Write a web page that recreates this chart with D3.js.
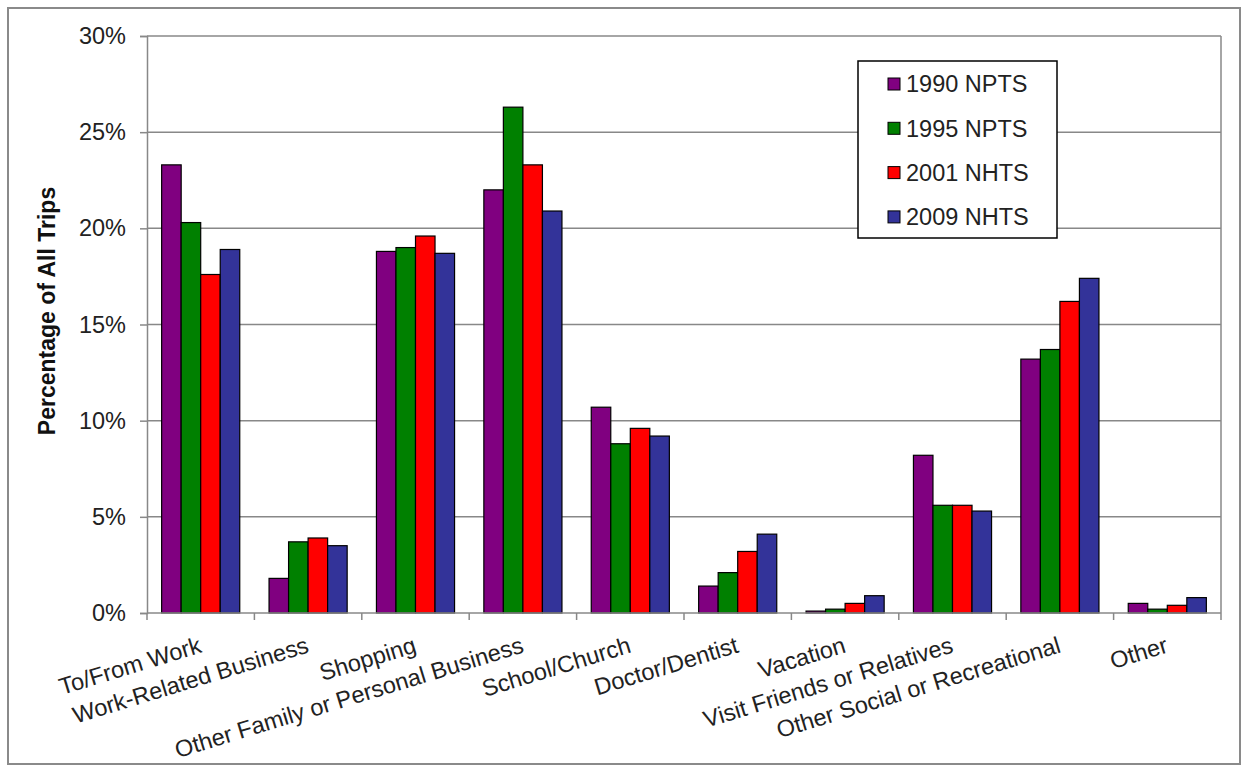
<!DOCTYPE html>
<html>
<head>
<meta charset="utf-8">
<script src="https://cdn.jsdelivr.net/npm/d3@7/dist/d3.min.js"></script>
<style>
  html, body { margin: 0; padding: 0; background: #fff; }
  svg { display: block; font-family: "Liberation Sans", Arial, sans-serif; }
</style>
</head>
<body>
<svg id="chart" width="1247" height="770"></svg>
<script>
const categories = ["To/From Work","Work-Related Business","Shopping","Other Family or Personal Business","School/Church","Doctor/Dentist","Vacation","Visit Friends or Relatives","Other Social or Recreational","Other"];
const seriesNames = ["1990 NPTS","1995 NPTS","2001 NHTS","2009 NHTS"];
const seriesColors = ["#800080","#008000","#FF0000","#333399"];
const values1990 = [23.3, 1.8, 18.8, 22.0, 10.7, 1.4, 0.1, 8.2, 13.2, 0.5];
const values1995 = [20.3, 3.7, 19.0, 26.3, 8.8, 2.1, 0.2, 5.6, 13.7, 0.2];
const values2001 = [17.6, 3.9, 19.6, 23.3, 9.6, 3.2, 0.5, 5.6, 16.2, 0.4];
const values2009 = [18.9, 3.5, 18.7, 20.9, 9.2, 4.1, 0.9, 5.3, 17.4, 0.8];
const yTicks = [0, 5, 10, 15, 20, 25, 30];
const yTitle = "Percentage of All Trips";

const allSeries = [values1990, values1995, values2001, values2009];

const svg = d3.select("#chart");
const L = 147, R = 1221, T = 36, B = 613;

// outer border
svg.append("rect").attr("x", 8).attr("y", 8).attr("width", 1232).attr("height", 756)
  .attr("fill", "#fff").attr("stroke", "#8a8a8a").attr("stroke-width", 2);

const x0 = d3.scaleBand().domain(categories).range([L, R]).padding(0);
const x1 = d3.scaleBand().domain(seriesNames).range([0, x0.bandwidth()]).paddingInner(0).paddingOuter(0.75);
const y = d3.scaleLinear().domain([0, 30]).range([B, T]);

// gridlines
svg.append("g").selectAll("line").data(yTicks.filter(d => d > 0)).join("line")
  .attr("x1", L).attr("x2", R).attr("y1", d => y(d)).attr("y2", d => y(d))
  .attr("stroke", "#888").attr("stroke-width", 1.5);
// right plot border
svg.append("line").attr("x1", R).attr("x2", R).attr("y1", T).attr("y2", B)
  .attr("stroke", "#888").attr("stroke-width", 1.5);

// bars
const groups = svg.append("g").selectAll("g").data(categories).join("g")
  .attr("transform", d => `translate(${x0(d)},0)`);
groups.selectAll("rect").data((c, i) => seriesNames.map((s, j) => ({s, j, v: allSeries[j][i]})))
  .join("rect")
  .attr("x", d => x1(d.s))
  .attr("width", x1.bandwidth())
  .attr("y", d => y(d.v))
  .attr("height", d => B - y(d.v))
  .attr("fill", d => seriesColors[d.j])
  .attr("stroke", "#000").attr("stroke-width", 1.2);

// y axis
const yAxis = d3.axisLeft(y).tickValues(yTicks).tickFormat(d => d + "%").tickSize(7).tickPadding(14);
const gy = svg.append("g").attr("transform", `translate(${L},0)`).call(yAxis);
gy.select(".domain").attr("stroke", "#888").attr("stroke-width", 1.5);
gy.selectAll(".tick line").attr("stroke", "#888").attr("stroke-width", 1.5);
gy.selectAll(".tick text").attr("font-size", 23.5).attr("fill", "#222")
  .attr("font-family", "Liberation Sans, Arial, sans-serif");

// x axis line + ticks at band boundaries
const xBounds = categories.map(c => x0(c)).concat([R]);
svg.append("line").attr("x1", L).attr("x2", R).attr("y1", B).attr("y2", B)
  .attr("stroke", "#888").attr("stroke-width", 1.5);
svg.append("g").selectAll("line").data(xBounds).join("line")
  .attr("x1", d => d).attr("x2", d => d).attr("y1", B).attr("y2", B + 7)
  .attr("stroke", "#888").attr("stroke-width", 1.5);

// x labels
svg.append("g").selectAll("text").data(categories).join("text")
  .attr("transform", d => `translate(${x0(d) + x0.bandwidth() / 2 + 2},${652}) rotate(-17)`)
  .attr("text-anchor", "end")
  .attr("font-size", 23.5).attr("fill", "#222")
  .text(d => d);

// y title
svg.append("text")
  .attr("transform", `translate(55,311) rotate(-90)`)
  .attr("text-anchor", "middle")
  .attr("font-size", 23).attr("font-weight", "bold").attr("fill", "#111")
  .text(yTitle);

// legend
const lg = svg.append("g");
lg.append("rect").attr("x", 858).attr("y", 61).attr("width", 199).attr("height", 177)
  .attr("fill", "#fff").attr("stroke", "#000").attr("stroke-width", 1.5);
const items = lg.selectAll("g").data(seriesNames).join("g")
  .attr("transform", (d, i) => `translate(0,${84 + i * 44.3})`);
items.append("rect").attr("x", 888).attr("y", -6).attr("width", 12).attr("height", 12)
  .attr("fill", (d, i) => seriesColors[i]).attr("stroke", "#000").attr("stroke-width", 1);
items.append("text").attr("x", 906).attr("y", 0).attr("dy", "0.36em")
  .attr("font-size", 23.5).attr("fill", "#222").text(d => d);
</script>
</body>
</html>
